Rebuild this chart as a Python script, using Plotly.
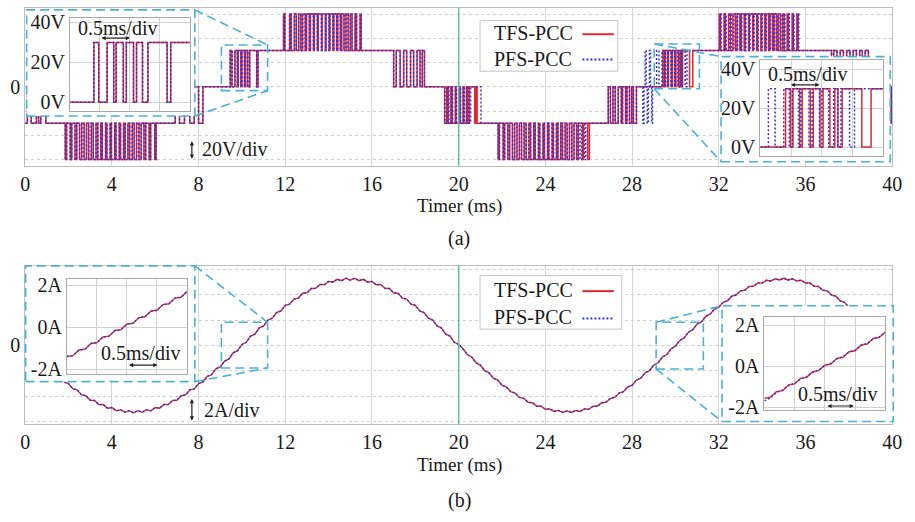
import plotly.graph_objects as go

FIG_W, FIG_H = 915, 522
FONT = "Liberation Serif, Times New Roman, serif"
RED = "#e3262f"
BLUE = "#3434d0"
CYAN = "#4cb2d4"
GREEN = "#62bd9a"
GRID = "#d6d6d6"
FRAME = "#bdbdbd"
INK = "#1a1a1a"

time_ticks = [0, 4, 8, 12, 16, 20, 24, 28, 32, 36, 40]
T_END = 40.0

# ---------------- output voltage (levels are multiples of one cell step) ----------------
V_STEP = 30  # volts per level

# (time in ms, level) where the resting level changes
tfs_base_levels = [(0.0, -1), (8.20, 0), (10.74, 1), (18.42, 0), (20.85, -1),
                   (28.20, 0), (30.80, 1), (38.90, 0)]
pfs_base_levels = [(0.0, -1), (8.20, 0), (10.74, 1), (18.42, 0), (21.03, -1),
                   (28.20, 0), (30.53, 1), (38.90, 0)]

# switching pulses (on, off) in ms, grouped by the level they reach
band_a = [(0.10, 0.28), (0.52, 0.62), (0.72, 0.95)]                                   # -> 0
band_b = [(1.85, 1.91), (2.08, 2.15), (2.30, 2.38), (2.51, 2.61), (2.72, 2.83),
          (2.93, 3.05), (3.14, 3.27), (3.35, 3.49), (3.56, 3.71), (3.77, 3.92),
          (3.98, 4.13), (4.19, 4.34), (4.40, 4.54), (4.61, 4.74), (4.82, 4.94),
          (5.03, 5.14), (5.25, 5.35), (5.48, 5.56), (5.72, 5.79), (5.98, 6.04)]     # -> -2
band_c = [(6.92, 7.12), (7.35, 7.60), (7.80, 8.00)]                                   # -> 0
band_d = [(9.46, 9.54), (9.68, 9.79), (9.83, 9.95), (10.00, 10.12),
          (10.17, 10.27), (10.36, 10.68)]                                             # -> +1
band_e = [(11.92, 11.98), (12.20, 12.27), (12.42, 12.51), (12.62, 12.72),
          (12.80, 12.92), (12.98, 13.11), (13.16, 13.30), (13.34, 13.48),
          (13.52, 13.67), (13.70, 13.85), (13.88, 14.02), (14.06, 14.20),
          (14.24, 14.37), (14.42, 14.54), (14.60, 14.71), (14.80, 14.90),
          (15.00, 15.08), (15.22, 15.29), (15.45, 15.50)]                             # -> +2
band_f = [(17.00, 17.12), (17.30, 17.46), (17.60, 17.78), (17.92, 18.08),
          (18.22, 18.32)]                                                             # -> 0
band_g_tfs = [(19.35, 19.45), (19.52, 19.64), (19.70, 19.84), (19.88, 20.02),
              (20.06, 20.20), (20.24, 20.36), (20.42, 20.50), (20.74, 20.79)]         # -> -1
band_g_pfs = [(19.37, 19.47), (19.55, 19.66), (19.72, 19.86), (19.90, 20.05),
              (20.09, 20.22), (20.27, 20.38), (20.45, 20.55)]                         # -> -1
band_h = [(21.82, 21.88), (22.05, 22.12), (22.27, 22.35), (22.48, 22.58),
          (22.69, 22.80), (22.90, 23.02), (23.11, 23.24), (23.32, 23.46),
          (23.53, 23.68), (23.74, 23.89), (23.95, 24.10), (24.16, 24.31),
          (24.37, 24.51), (24.58, 24.71), (24.79, 24.91), (25.00, 25.11),
          (25.22, 25.32), (25.44, 25.52)]                                             # -> -2
band_h_tfs_tail = [(25.70, 25.76), (25.95, 26.03)]
band_h_pfs_tail = [(25.60, 25.68), (25.80, 25.86)]
band_i = [(26.90, 27.00), (27.12, 27.22), (27.36, 27.50), (27.56, 27.70),
          (27.76, 27.88), (27.98, 28.06)]                                             # -> 0
pfs_glitch = [(28.50, 28.55, -1), (28.60, 28.65, 1), (28.70, 28.75, -1),
              (28.80, 28.85, 1), (28.90, 28.94, -1)]
band_j_tfs = [(29.41, 29.49), (29.53, 29.64), (29.68, 29.81), (29.86, 29.97),
              (30.02, 30.13), (30.21, 30.26), (30.33, 30.65)]                         # -> +1
band_j_pfs = [(29.13, 29.24), (29.38, 29.47), (29.52, 29.62), (29.66, 29.79),
              (29.84, 29.96), (30.00, 30.11), (30.19, 30.26), (30.31, 30.45)]
band_k_tfs = [(32.02, 32.08), (32.24, 32.31), (32.45, 32.54), (32.65, 32.76),
              (32.84, 32.97), (33.03, 33.17), (33.22, 33.37), (33.41, 33.56),
              (33.60, 33.75), (33.79, 33.94), (33.98, 34.12), (34.17, 34.30),
              (34.36, 34.48), (34.55, 34.66), (34.74, 34.84), (34.94, 35.02),
              (35.15, 35.22), (35.38, 35.44), (35.60, 35.66)]                         # -> +2
band_k_pfs = [(32.05, 32.11), (32.27, 32.34), (32.48, 32.57), (32.68, 32.79),
              (32.87, 33.00), (33.06, 33.20), (33.25, 33.40), (33.44, 33.59),
              (33.63, 33.78), (33.82, 33.97), (34.01, 34.15), (34.20, 34.33),
              (34.39, 34.51), (34.58, 34.69), (34.77, 34.87), (34.97, 35.05),
              (35.18, 35.25), (35.41, 35.47), (35.63, 35.69)]
band_l = [(37.20, 37.30), (37.45, 37.60), (37.75, 37.90), (38.05, 38.20),
          (38.35, 38.50), (38.62, 38.75)]                                             # -> 0
band_m = [(39.82, 39.90), (39.95, 40.00)]                                             # -> -1

# ---------------- grid current ----------------
I_STEP_MS = 0.2
i_grid = [
    0.08, -0.41, -0.58, -1.06, -1.23, -1.70, -1.85, -2.32, -2.45, -2.89,
    -3.01, -3.43, -3.51, -3.91, -3.97, -4.33, -4.35, -4.68, -4.67, -4.96,
    -4.91, -5.17, -5.08, -5.29, -5.16, -5.33, -5.16, -5.29, -5.08, -5.17,
    -4.91, -4.96, -4.67, -4.68, -4.35, -4.33, -3.97, -3.91, -3.51, -3.43,
    -3.01, -2.89, -2.45, -2.32, -1.85, -1.70, -1.23, -1.06, -0.58, -0.41,
    0.08, 0.25, 0.74, 0.90, 1.39, 1.54, 2.01, 2.16, 2.61, 2.73,
    3.17, 3.27, 3.67, 3.75, 4.13, 4.17, 4.51, 4.52, 4.83, 4.80,
    5.07, 5.01, 5.24, 5.13, 5.32, 5.17, 5.32, 5.13, 5.24, 5.01,
    5.07, 4.80, 4.83, 4.52, 4.51, 4.17, 4.13, 3.75, 3.67, 3.27,
    3.17, 2.73, 2.61, 2.16, 2.01, 1.54, 1.39, 0.90, 0.74, 0.25,
    0.08, -0.26, -0.72, -0.91, -1.37, -1.55, -1.99, -2.17, -2.59, -2.74,
    -3.15, -3.28, -3.65, -3.76, -4.11, -4.18, -4.49, -4.53, -4.81, -4.81,
    -5.05, -5.02, -5.22, -5.14, -5.30, -5.18, -5.30, -5.14, -5.22, -5.02,
    -5.05, -4.81, -4.81, -4.53, -4.49, -4.18, -4.11, -3.76, -3.65, -3.28,
    -3.15, -2.74, -2.59, -2.17, -1.99, -1.55, -1.37, -0.91, -0.72, -0.26,
    -0.06, 0.40, 0.60, 1.05, 1.25, 1.69, 1.87, 2.31, 2.47, 2.88,
    3.03, 3.42, 3.53, 3.90, 3.99, 4.32, 4.37, 4.67, 4.69, 4.95,
    4.93, 5.16, 5.10, 5.28, 5.18, 5.32, 5.18, 5.28, 5.10, 5.16,
    4.93, 4.95, 4.69, 4.67, 4.37, 4.32, 3.99, 3.90, 3.53, 3.42,
    3.03, 2.88, 2.47, 2.31, 1.87, 1.69, 1.25, 1.05, 0.60, 0.40,
    -0.06,
]

# zoomed current records (0.1 ms sampling)
ZOOM_STEP_MS = 0.1
zoom1_start, zoom2_start = 9.06, 29.00
zoom1_current = [-1.40, -1.36, -1.09, -1.05, -0.78, -0.74, -0.47, -0.43, -0.16, -0.12,
                 0.15, 0.19, 0.46, 0.50, 0.77, 0.81, 1.08, 1.12, 1.39, 1.43, 1.70]
zoom2_tfs = [-1.57, -1.52, -1.25, -1.20, -0.92, -0.87, -0.60, -0.55, -0.27, -0.22,
             0.05, 0.10, 0.38, 0.43, 0.70, 0.75, 1.03, 1.08, 1.35, 1.40, 1.67]
zoom2_pfs = [-1.70, -1.56, -1.30, -1.17, -0.95, -0.84, -0.63, -0.52, -0.30, -0.19,
             0.03, 0.13, 0.35, 0.46, 0.68, 0.78, 1.00, 1.11, 1.33, 1.43, 1.64]

legend_labels = ["TFS-PCC", "PFS-PCC"]


def tag(pairs, level):
    return [(a, b, level) for a, b in pairs]


tfs_pulses = (tag(band_a, 0) + tag(band_b, -2) + tag(band_c, 0) + tag(band_d, 1)
              + tag(band_e, 2) + tag(band_f, 0) + tag(band_g_tfs, -1) + tag(band_h, -2)
              + tag(band_h_tfs_tail, -2) + tag(band_i, 0) + tag(band_j_tfs, 1)
              + tag(band_k_tfs, 2) + tag(band_l, 0) + tag(band_m, -1))
pfs_pulses = (tag(band_a, 0) + tag(band_b, -2) + tag(band_c, 0) + tag(band_d, 1)
              + tag(band_e, 2) + tag(band_f, 0) + tag(band_g_pfs, -1) + tag(band_h, -2)
              + tag(band_h_pfs_tail, -2) + tag(band_i, 0) + pfs_glitch + tag(band_j_pfs, 1)
              + tag(band_k_pfs, 2) + tag(band_l, 0) + tag(band_m, -1))


def build_wave(base, pulses):
    """Step waveform (volts) from resting levels and switching pulses."""
    times = sorted(set([t for t, _ in base] + [p[0] for p in pulses]
                       + [p[1] for p in pulses] + [T_END]))

    def base_at(t):
        lvl = base[0][1]
        for bt, bl in base:
            if bt <= t:
                lvl = bl
        return lvl

    def level_at(t):
        for on, off, lv in pulses:
            if on <= t < off:
                return lv
        return base_at(t)

    return times, [level_at(t) * V_STEP for t in times]


tfs_t, tfs_v = build_wave(tfs_base_levels, tfs_pulses)
pfs_t, pfs_v = build_wave(pfs_base_levels, pfs_pulses)
i_t = [round(k * I_STEP_MS, 2) for k in range(len(i_grid))]
z1_t = [round(zoom1_start + k * ZOOM_STEP_MS, 2) for k in range(len(zoom1_current))]
z2_t = [round(zoom2_start + k * ZOOM_STEP_MS, 2) for k in range(len(zoom2_tfs))]


def px(x):
    return x / FIG_W


def py(y):
    return 1 - y / FIG_H


fig = go.Figure()


def wave_pair(xs_r, ys_r, xs_b, ys_b, xa, ya, shape="hv", w=1.5):
    fig.add_trace(go.Scatter(x=xs_r, y=ys_r, mode="lines", xaxis=xa, yaxis=ya,
                             line=dict(color=RED, width=w, shape=shape),
                             hoverinfo="skip", showlegend=False))
    fig.add_trace(go.Scatter(x=xs_b, y=ys_b, mode="lines", xaxis=xa, yaxis=ya,
                             line=dict(color=BLUE, width=w, dash="2px,2px", shape=shape),
                             hoverinfo="skip", showlegend=False))


# main panels
wave_pair(tfs_t, tfs_v, pfs_t, pfs_v, "x", "y")
wave_pair(i_t, i_grid, i_t, i_grid, "x2", "y2", shape="linear", w=1.4)

# white backing for the zoom windows
for n in (3, 4, 5, 6):
    fig.add_trace(go.Scatter(x=[0, 1, 1, 0, 0], y=[0, 0, 1, 1, 0], mode="lines",
                             fill="toself", fillcolor="white", line=dict(width=0),
                             xaxis=f"x{n}", yaxis=f"y{n}", hoverinfo="skip", showlegend=False))

# zoom windows
wave_pair(tfs_t, tfs_v, pfs_t, pfs_v, "x7", "y7")
wave_pair(tfs_t, tfs_v, pfs_t, pfs_v, "x8", "y8")
wave_pair(z1_t, zoom1_current, z1_t, zoom1_current, "x9", "y9", shape="linear", w=1.4)
wave_pair(z2_t, zoom2_tfs, z2_t, zoom2_pfs, "x10", "y10", shape="linear", w=1.4)

tick_font = dict(family=FONT, size=20, color=INK)


def main_x(dom_anchor):
    return dict(domain=[px(20.5), px(902)], range=[0, 40], anchor=dom_anchor,
                tickvals=time_ticks, tickfont=tick_font, ticks="",
                showgrid=True, gridcolor=GRID, gridwidth=1,
                zeroline=False, showline=True, mirror=True, linecolor=FRAME, linewidth=1)


def main_y(top, bottom, rng, vals, anchor):
    return dict(domain=[py(bottom), py(top)], range=rng, anchor=anchor,
                tickvals=vals, ticktext=["0" if v == 0 else "" for v in vals],
                tickfont=tick_font, ticks="", showgrid=True, gridcolor="#cfcfcf",
                griddash="dot", gridwidth=1, zeroline=False, showline=True, mirror=True,
                linecolor=FRAME, linewidth=1)


def hidden(x0, x1, anchor, horizontal=True):
    dom = [px(x0), px(x1)] if horizontal else [py(x1), py(x0)]
    return dict(domain=dom, range=[0, 1], visible=False, anchor=anchor, fixedrange=True)


def inset_x(x0, x1, start, anchor):
    return dict(domain=[px(x0), px(x1)], range=[start, start + 2.0], anchor=anchor,
                tick0=start, dtick=0.5, showticklabels=False, ticks="", showgrid=True,
                gridcolor="#d2d2d2", zeroline=False, showline=True, mirror=True,
                linecolor="#a8a8a8", linewidth=1)


def inset_y(y0, y1, rng, vals, texts, anchor):
    return dict(domain=[py(y1), py(y0)], range=rng, anchor=anchor, tickvals=vals,
                ticktext=texts, tickfont=tick_font, ticks="", showgrid=True,
                gridcolor="#d2d2d2", zeroline=False, showline=True, mirror=True,
                linecolor="#a8a8a8", linewidth=1)


fig.update_layout(
    width=FIG_W, height=FIG_H, margin=dict(l=0, r=0, t=0, b=0),
    paper_bgcolor="white", plot_bgcolor="white", showlegend=False,
    xaxis=main_x("y"),
    yaxis=main_y(2, 164, [-65, 65], [-60, -40, -20, 0, 20, 40, 60], "x"),
    xaxis2=main_x("y2"),
    yaxis2=main_y(267, 430, [-6.25, 6.3], [-6, -4, -2, 0, 2, 4, 6], "x2"),
    xaxis3=hidden(22, 193, "y3"), yaxis3=hidden(4, 113, "x3", horizontal=False),
    xaxis4=hidden(728, 900, "y4"), yaxis4=hidden(52, 160, "x4", horizontal=False),
    xaxis5=hidden(21, 193, "y5"), yaxis5=hidden(267, 386, "x5", horizontal=False),
    xaxis6=hidden(729, 903, "y6"), yaxis6=hidden(308, 427, "x6", horizontal=False),
    xaxis7=inset_x(66, 188, zoom1_start, "y7"),
    yaxis7=inset_y(12, 108, [-4.4, 42.4], [0, 20, 40], ["0V", "20V", "40V"], "x7"),
    xaxis8=inset_x(768, 893, zoom2_start, "y8"),
    yaxis8=inset_y(56, 154, [-4.5, 44.5], [0, 20, 40], ["0V", "20V", "40V"], "x8"),
    xaxis9=inset_x(63, 185, zoom1_start, "y9"),
    yaxis9=inset_y(281, 378, [-2.23, 2.28], [-2, 0, 2], ["-2A", "0A", "2A"], "x9"),
    xaxis10=inset_x(772, 895, zoom2_start, "y10"),
    yaxis10=inset_y(320, 415, [-2.14, 2.38], [-2, 0, 2], ["-2A", "0A", "2A"], "x10"),
)

shapes = []
dash = "9px,5px"


def pline(x0, y0, x1, y1, color=CYAN, width=1.6, d=dash):
    shapes.append(dict(type="line", xref="paper", yref="paper", x0=px(x0), y0=py(y0),
                       x1=px(x1), y1=py(y1), layer="above",
                       line=dict(color=color, width=width, dash=d)))


def prect(x0, y0, x1, y1, color=CYAN, width=1.6, d=dash, fill=None):
    s = dict(type="rect", xref="paper", yref="paper", x0=px(x0), y0=py(y1),
             x1=px(x1), y1=py(y0), layer="above", line=dict(color=color, width=width, dash=d))
    if fill:
        s["fillcolor"] = fill
    shapes.append(s)


# zoom windows, marked regions and leader lines
prect(22, 4, 193, 113)
prect(220, 40, 267, 87)
pline(193, 4, 267, 40)
pline(193, 113, 267, 87)

prect(728, 52, 900, 160)
prect(660, 39, 706, 85)
pline(660, 39, 728, 52)
pline(660, 85, 728, 160)

prect(21, 267, 193, 386)
prect(220, 325, 267, 372)
pline(193, 267, 267, 325)
pline(193, 386, 267, 372)

prect(729, 308, 903, 427)
prect(662, 325, 710, 373)
pline(662, 325, 729, 308)
pline(662, 373, 729, 427)

# 20 ms marker
for top, bottom in ((2, 164), (267, 430)):
    shapes.append(dict(type="line", xref="x", yref="paper", x0=20, x1=20,
                       y0=py(bottom), y1=py(top), layer="above",
                       line=dict(color=GREEN, width=1.5)))

# legend boxes: (box x0, y0, x1, y1, first row y, second row y)
legend_specs = [(483, 15, 623, 67, 28, 54), (483, 277, 627, 332, 292, 320)]
for x0, y0, x1, y1, r_y, b_y in legend_specs:
    prect(x0, y0, x1, y1, color="#c4c4c4", width=1, d="solid", fill="white")
    pline(587, r_y + 1, 619, r_y + 1, color=RED, width=2, d="solid")
    pline(587, b_y + 1, 619, b_y + 1, color=BLUE, width=2, d="2px,2px")

fig.update_layout(shapes=shapes)

annotations = []


def ptext(x, y, text, xanchor="center", size=20):
    annotations.append(dict(xref="paper", yref="paper", x=px(x), y=py(y), text=text,
                            showarrow=False, xanchor=xanchor, yanchor="middle",
                            font=dict(family=FONT, size=size, color=INK)))


def double_arrow(x0, y0, x1, y1):
    annotations.append(dict(xref="paper", yref="paper", x=px(x1), y=py(y1), text="",
                            showarrow=True, ax=x0 - x1, ay=y0 - y1, axref="pixel",
                            ayref="pixel", arrowhead=2, arrowside="end+start",
                            arrowsize=0.7, arrowwidth=1.2, arrowcolor="#222222",
                            standoff=0, startstandoff=0))


ptext(462, 205, "Timer (ms)", size=19)
ptext(462, 472, "Timer (ms)", size=19)
ptext(462, 239, "(a)")
ptext(462, 508, "(b)")

for x0, y0, x1, y1, r_y, b_y in legend_specs:
    ptext(495, r_y, legend_labels[0], xanchor="left")
    ptext(495, b_y, legend_labels[1], xanchor="left")

ptext(114, 23, "0.5ms/div")
double_arrow(97, 33, 127, 33)
ptext(816, 70, "0.5ms/div")
double_arrow(798, 81, 828, 81)
ptext(138, 357, "0.5ms/div")
double_arrow(125, 369, 155, 369)
ptext(846, 399, "0.5ms/div")
double_arrow(835, 411, 863, 411)

double_arrow(190, 138, 190, 157)
ptext(198, 147, "20V/div", xanchor="left")
double_arrow(190, 403, 190, 426)
ptext(200, 415, "2A/div", xanchor="left")

fig.update_layout(annotations=annotations)

fig.write_html("out.html")
